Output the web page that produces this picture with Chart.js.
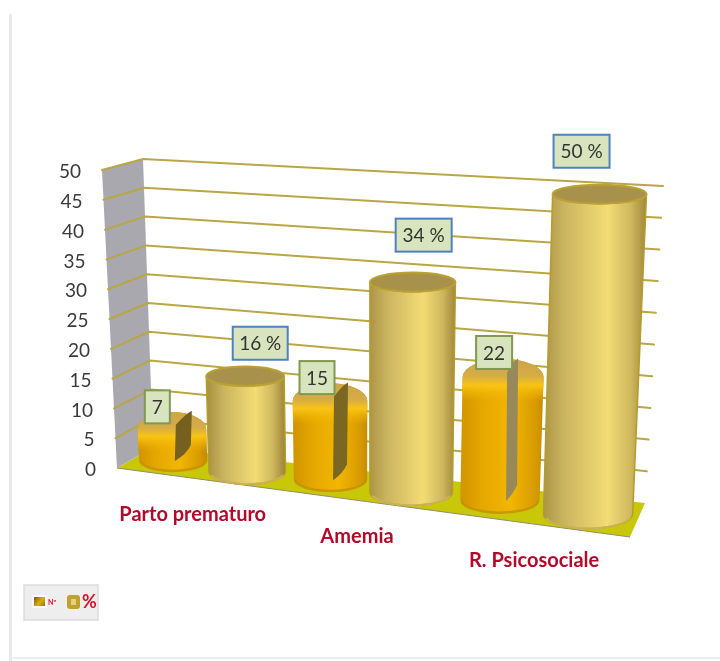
<!DOCTYPE html>
<html>
<head>
<meta charset="utf-8">
<style>
html,body{margin:0;padding:0;background:#fff;overflow:hidden}
canvas{display:block;filter:blur(0.45px)}
</style>
<script src="https://cdn.jsdelivr.net/npm/chart.js@4"></script>
</head>
<body>
<canvas id="c" width="720" height="661"></canvas>
<script>
// ---- data ----
const categories = ['Parto prematuro', 'Amemia', 'R. Psicosociale'];
const seriesNames = ['Nº', '%'];
const countValues = [7, 15, 22];
const percentValues = [16, 34, 50];
const percentSuffix = ' %';
const yTicks = {min: 0, max: 50, step: 5};

// ---- 3D view box: corners of the projected plot (f = front, b = back; l/r; B = floor, T = top) ----
const view = {
  fLB: [117, 468], fLT: [102, 170], bLB: [153, 447], bLT: [143, 159],
  fRB: [630, 537], fRT: [640, 205], bRB: [645, 503], bRT: [663, 186]
};
const perspective = 1.12;
const mix = (a, b, k) => [a[0] + (b[0] - a[0]) * k, a[1] + (b[1] - a[1]) * k];
function project(u, v, d) {
  const B = mix(mix(view.fLB, view.fRB, u), mix(view.bLB, view.bRB, u), d);
  const T = mix(mix(view.fLT, view.fRT, u), mix(view.bLT, view.bRT, u), d);
  return mix(B, T, v);
}
const warp = t => t / (perspective + (1 - perspective) * t);

// ---- styles ----
const labelOffsets = [
  [[-14.5, -14], [-13, -15], [-9, -16]],
  [[15, -33], [11, -47], [-18, -43]]
];
const boxWidths = [[25, 35, 36], [55, 56, 56]];
const boxBorders = ['#7f9a4e', '#4f81bd'];
const widthScale = [0.9, 0.97];
const seriesShift = [-3, -3];
const seriesDepth = [0.6, 0.5];
const heightScale = [0.95, 0.995];
const sliverStyles = [
  {color: '#75601f', w: 17},
  {color: '#7a6722', w: 15},
  {color: '#99895a', w: 12}
];
const FONT = 'Lato, "Open Sans", sans-serif';

function cylinderAreaPath(ctx, top, bot, rxT, rxB, ryT, ryB) {
  ctx.beginPath();
  ctx.moveTo(top[0] - rxT, top[1]);
  ctx.lineTo(bot[0] - rxB, bot[1]);
  ctx.ellipse(bot[0], bot[1], rxB, ryB, 0, Math.PI, 0, true);
  ctx.lineTo(top[0] + rxT, top[1]);
  ctx.ellipse(top[0], top[1], rxT, ryT, 0, 0, Math.PI, false);
  ctx.closePath();
}

function drawGold(ctx, top, bot, rxT, rxB, ryT, ryB) {
  const g = ctx.createLinearGradient(bot[0] - rxB, 0, top[0] + rxT, 0);
  g.addColorStop(0, '#ab9444');
  g.addColorStop(0.18, '#c9b25e');
  g.addColorStop(0.62, '#f3dc74');
  g.addColorStop(0.85, '#cfb75e');
  g.addColorStop(1, '#a08838');
  cylinderAreaPath(ctx, top, bot, rxT, rxB, ryT, ryB);
  ctx.fillStyle = g; ctx.fill();
  ctx.strokeStyle = '#b69b2e'; ctx.lineWidth = 1.5; ctx.stroke();
  ctx.beginPath();
  ctx.ellipse(bot[0], bot[1], rxB - 1, ryB, 0, Math.PI * 0.1, Math.PI * 0.9, false);
  ctx.strokeStyle = 'rgba(205,180,90,0.9)'; ctx.lineWidth = 2; ctx.stroke();
  ctx.beginPath();
  ctx.ellipse(top[0], top[1], rxT, ryT, 0, 0, Math.PI * 2);
  ctx.fillStyle = '#a8914a'; ctx.fill();
  ctx.strokeStyle = '#bba133'; ctx.lineWidth = 2; ctx.stroke();
}

function domePath(ctx, top, bot, rxT, rxB, ryT, ryB) {
  // silhouette with rounded shoulders
  const sy = top[1] + ryT * 0.9;
  ctx.beginPath();
  ctx.moveTo(top[0] - rxT, sy);
  ctx.lineTo(bot[0] - rxB, bot[1]);
  ctx.ellipse(bot[0], bot[1], rxB, ryB, 0, Math.PI, 0, true);
  ctx.lineTo(top[0] + rxT, sy);
  ctx.ellipse(top[0], sy, rxT, ryT * 1.9, 0, 0, Math.PI, true);
  ctx.closePath();
}

function drawOrange(ctx, top, bot, rxT, rxB, ryT, ryB) {
  const g = ctx.createLinearGradient(bot[0] - rxB, 0, top[0] + rxT, 0);
  g.addColorStop(0, '#d09400');
  g.addColorStop(0.25, '#e4a700');
  g.addColorStop(0.6, '#f2b600');
  g.addColorStop(0.9, '#d89b00');
  g.addColorStop(1, '#c48c06');
  domePath(ctx, top, bot, rxT, rxB, ryT, ryB);
  ctx.fillStyle = g; ctx.fill();
  ctx.beginPath();
  ctx.ellipse(bot[0], bot[1], rxB - 1, ryB, 0, Math.PI * 0.05, Math.PI * 0.95, false);
  ctx.strokeStyle = 'rgba(200,145,0,0.85)'; ctx.lineWidth = 2.5; ctx.stroke();
  // tan top fading into a bright shoulder band
  const y0 = top[1] - ryT;
  const hi = ctx.createLinearGradient(0, y0, 0, y0 + ryT * 4.4);
  hi.addColorStop(0, 'rgba(205,165,75,1)');
  hi.addColorStop(0.4, 'rgba(214,172,70,1)');
  hi.addColorStop(0.62, 'rgba(248,196,20,1)');
  hi.addColorStop(1, 'rgba(245,180,0,0)');
  ctx.save();
  domePath(ctx, top, bot, rxT, rxB, ryT, ryB);
  ctx.clip();
  ctx.fillStyle = hi;
  ctx.fillRect(top[0] - rxT - 3, y0 - 2, rxT * 2 + 6, ryT * 4.4 + 2);
  ctx.restore();
}

const perspectivePlugin = {
  id: 'perspective',
  beforeDatasetsDraw(chart) {
    const ctx = chart.ctx, y = chart.scales.y, area = chart.chartArea;
    const vOf = val => (area.bottom - y.getPixelForValue(val)) / (area.bottom - area.top);
    ctx.save();
    // page frame
    ctx.fillStyle = '#e9e9e9';
    ctx.fillRect(9, 14, 3, 647);
    ctx.fillStyle = '#ececec';
    ctx.fillRect(11, 657, 709, 2);
    const poly = (pts, fill) => {
      ctx.beginPath();
      pts.forEach((p, i) => i ? ctx.lineTo(p[0], p[1]) : ctx.moveTo(p[0], p[1]));
      ctx.closePath(); ctx.fillStyle = fill; ctx.fill();
    };
    poly([view.fLB, view.fRB, view.bRB, view.bLB], '#c9c808');
    ctx.beginPath(); ctx.moveTo(view.fLB[0], view.fLB[1]); ctx.lineTo(view.fRB[0], view.fRB[1]);
    ctx.strokeStyle = '#8d8d6a'; ctx.lineWidth = 1; ctx.stroke();
    poly([view.fLB, view.fLT, view.bLT, view.bLB], '#a8a8ae');
    // grid lines + y tick labels, from the chart's own y scale
    ctx.lineWidth = 2; ctx.strokeStyle = '#b9a644'; ctx.lineCap = 'round';
    y.ticks.forEach(tk => {
      const v = vOf(tk.value);
      const a = project(0, v, 0), b = project(0, v, 1), c = project(1, v, 1);
      if (tk.value > 0) {
        ctx.beginPath(); ctx.moveTo(a[0], a[1]); ctx.lineTo(b[0], b[1]); ctx.lineTo(c[0], c[1]); ctx.stroke();
      }
      ctx.fillStyle = '#3a3a3a';
      ctx.font = '19px ' + FONT;
      ctx.textAlign = 'right'; ctx.textBaseline = 'middle';
      ctx.fillText(String(tk.value), a[0] - 21, a[1] + 2);
    });
    // category labels, from the chart's own x scale
    const x = chart.scales.x;
    ctx.font = 'bold 20px ' + FONT;
    ctx.fillStyle = '#b3092a';
    ctx.textAlign = 'center';
    categories.forEach((c, i) => {
      const t = (x.getPixelForValue(i) - area.left) / (area.right - area.left);
      const p = project(warp(t), 0, 0);
      ctx.fillText(c, p[0] - 2, p[1] + 36);
    });
    // cylinders, from the chart's own bar elements
    const tops = [];
    chart.data.datasets.forEach((ds, di) => {
      const meta = chart.getDatasetMeta(di);
      tops[di] = [];
      meta.data.forEach((bar, i) => {
        const hw = bar.width / 2 * widthScale[di];
        const tc = (bar.x - area.left) / (area.right - area.left);
        const t0 = (bar.x - hw - area.left) / (area.right - area.left);
        const t1 = (bar.x + hw - area.left) / (area.right - area.left);
        const v = (area.bottom - bar.y) / (area.bottom - area.top) * heightScale[di];
        const d = seriesDepth[di];
        const top = project(warp(tc), v, d), bot = project(warp(tc), 0, d);
        top[0] += seriesShift[di]; bot[0] += seriesShift[di];
        const rxT = (project(warp(t1), v, d)[0] - project(warp(t0), v, d)[0]) / 2;
        const rxB = (project(warp(t1), 0, d)[0] - project(warp(t0), 0, d)[0]) / 2;
        const ryT = rxT * (0.27 - 0.07 * v), ryB = rxB * 0.32;
        if (di === 0) drawOrange(ctx, top, bot, rxT, rxB, ryT, ryB);
        else drawGold(ctx, top, bot, rxT, rxB, ryT, ryB);
        tops[di][i] = {top, bot, rxT, ryT};
      });
    });
    // dark slivers on the first series
    tops[0].forEach((b, i) => {
      const s = sliverStyles[i];
      const xl = b.top[0] + 3, xr = xl + s.w;
      ctx.beginPath();
      ctx.moveTo(xl, b.bot[1] + 1);
      ctx.lineTo(xl + 1, b.top[1] + 4);
      ctx.quadraticCurveTo(xr - 5, b.top[1] - 8, xr, b.top[1] - 10);
      ctx.lineTo(xr - 1, b.bot[1] - 15);
      ctx.quadraticCurveTo(xr - 5, b.bot[1] - 6, xl, b.bot[1] + 1);
      ctx.closePath();
      ctx.fillStyle = s.color; ctx.fill();
    });
    // value boxes
    chart.data.datasets.forEach((ds, di) => {
      ds.data.forEach((val, i) => {
        const b = tops[di][i], off = labelOffsets[di][i];
        const w = boxWidths[di][i], h = 33;
        const cx = b.top[0] + off[0], cy = b.top[1] + off[1];
        ctx.fillStyle = '#d8e4bd';
        ctx.fillRect(cx - w / 2, cy - h / 2, w, h);
        ctx.strokeStyle = boxBorders[di]; ctx.lineWidth = 2;
        ctx.strokeRect(cx - w / 2, cy - h / 2, w, h);
        ctx.fillStyle = '#333';
        ctx.font = '19px ' + FONT;
        ctx.textAlign = 'center'; ctx.textBaseline = 'middle';
        ctx.fillText(val + (di === 1 ? percentSuffix : ''), cx, cy + 1);
      });
    });
    // legend
    ctx.fillStyle = '#eeeeee'; ctx.fillRect(24, 585, 74, 35);
    ctx.strokeStyle = '#dcdcdc'; ctx.lineWidth = 1.5; ctx.strokeRect(24, 585, 74, 35);
    const lg = ctx.createLinearGradient(34, 597, 45, 606);
    lg.addColorStop(0, '#6f5a1c'); lg.addColorStop(0.55, '#e0ac10'); lg.addColorStop(1, '#8f7620');
    ctx.fillStyle = '#fff'; ctx.fillRect(32, 595, 15, 13);
    ctx.fillStyle = lg; ctx.fillRect(34, 597, 11, 9);
    ctx.fillStyle = '#d8102e'; ctx.font = 'bold 7px ' + FONT; ctx.textAlign = 'left';
    ctx.fillText(seriesNames[0], 48, 603);
    ctx.fillStyle = '#c0a032';
    ctx.beginPath(); ctx.roundRect(67, 595, 13, 14, 3); ctx.fill();
    ctx.fillStyle = '#e3d27a'; ctx.fillRect(71, 599, 5, 6);
    ctx.fillStyle = '#d8102e'; ctx.font = 'bold 18px ' + FONT;
    ctx.fillText(seriesNames[1], 82, 602);
    ctx.restore();
  }
};

new Chart(document.getElementById('c'), {
  type: 'bar',
  data: {
    labels: categories,
    datasets: [
      {label: seriesNames[0], data: countValues, backgroundColor: 'rgba(0,0,0,0)'},
      {label: seriesNames[1], data: percentValues, backgroundColor: 'rgba(0,0,0,0)'}
    ]
  },
  options: {
    responsive: false,
    animation: false,
    events: [],
    layout: {padding: {left: 117, right: 90, top: 170, bottom: 191}},
    plugins: {legend: {display: false}, tooltip: {enabled: false}},
    datasets: {bar: {categoryPercentage: 1, barPercentage: 1}},
    scales: {
      x: {display: false, type: 'category'},
      y: {display: false, min: yTicks.min, max: yTicks.max, ticks: {stepSize: yTicks.step}}
    }
  },
  plugins: [perspectivePlugin]
});
</script>
</body>
</html>
